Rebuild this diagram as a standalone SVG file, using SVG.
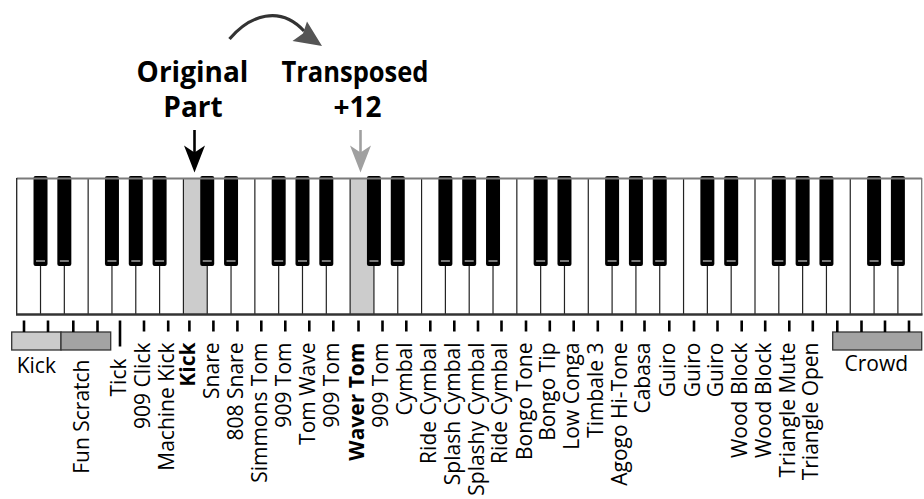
<svg xmlns="http://www.w3.org/2000/svg" xmlns:xlink="http://www.w3.org/1999/xlink" width="924" height="499" viewBox="0 0 924 499">
<defs>
<style>
text{font-family:"Open Sans","Liberation Sans",sans-serif;fill:#000}
.hd{font-size:28px;font-weight:bold;text-anchor:middle}
.lb{font-size:21px;text-anchor:end}
.b{font-weight:bold}
.sep{stroke:#222;stroke-width:1.2}
.tk{stroke:#000;stroke-width:2.6}
</style>
<g id="bk"><rect x="-7" y="176" width="14" height="90" rx="2" fill="#000"/><line x1="-4.5" y1="261" x2="4.5" y2="261" stroke="#9a9a9a" stroke-width="1.6"/></g>
</defs>
<rect width="924" height="499" fill="#fff"/>

<g id="keyboard">
<rect x="16.7" y="178.5" width="905" height="135.5" fill="#fff"/>
<rect x="183.41" y="178.5" width="23.82" height="135.5" fill="#cccccc"/>
<rect x="350.12" y="178.5" width="23.82" height="135.5" fill="#cccccc"/>
<g class="sep">
<line x1="40.52" y1="179" x2="40.52" y2="314"/><line x1="64.33" y1="179" x2="64.33" y2="314"/><line x1="88.15" y1="179" x2="88.15" y2="314"/><line x1="111.96" y1="179" x2="111.96" y2="314"/><line x1="135.78" y1="179" x2="135.78" y2="314"/><line x1="159.6" y1="179" x2="159.6" y2="314"/><line x1="183.41" y1="179" x2="183.41" y2="314"/><line x1="207.23" y1="179" x2="207.23" y2="314"/><line x1="231.04" y1="179" x2="231.04" y2="314"/><line x1="254.86" y1="179" x2="254.86" y2="314"/><line x1="278.68" y1="179" x2="278.68" y2="314"/><line x1="302.49" y1="179" x2="302.49" y2="314"/><line x1="326.31" y1="179" x2="326.31" y2="314"/><line x1="350.12" y1="179" x2="350.12" y2="314"/><line x1="373.94" y1="179" x2="373.94" y2="314"/><line x1="397.76" y1="179" x2="397.76" y2="314"/><line x1="421.57" y1="179" x2="421.57" y2="314"/><line x1="445.39" y1="179" x2="445.39" y2="314"/><line x1="469.2" y1="179" x2="469.2" y2="314"/><line x1="493.02" y1="179" x2="493.02" y2="314"/><line x1="516.84" y1="179" x2="516.84" y2="314"/><line x1="540.65" y1="179" x2="540.65" y2="314"/><line x1="564.47" y1="179" x2="564.47" y2="314"/><line x1="588.28" y1="179" x2="588.28" y2="314"/><line x1="612.1" y1="179" x2="612.1" y2="314"/><line x1="635.92" y1="179" x2="635.92" y2="314"/><line x1="659.73" y1="179" x2="659.73" y2="314"/><line x1="683.55" y1="179" x2="683.55" y2="314"/><line x1="707.36" y1="179" x2="707.36" y2="314"/><line x1="731.18" y1="179" x2="731.18" y2="314"/><line x1="755" y1="179" x2="755" y2="314"/><line x1="778.81" y1="179" x2="778.81" y2="314"/><line x1="802.63" y1="179" x2="802.63" y2="314"/><line x1="826.44" y1="179" x2="826.44" y2="314"/><line x1="850.26" y1="179" x2="850.26" y2="314"/><line x1="874.08" y1="179" x2="874.08" y2="314"/><line x1="897.89" y1="179" x2="897.89" y2="314"/>
</g>
<g id="black-keys">
<use xlink:href="#bk" x="40.52"/><use xlink:href="#bk" x="64.33"/><use xlink:href="#bk" x="111.96"/><use xlink:href="#bk" x="135.78"/><use xlink:href="#bk" x="159.6"/>
<use xlink:href="#bk" x="207.23"/><use xlink:href="#bk" x="231.04"/><use xlink:href="#bk" x="278.68"/><use xlink:href="#bk" x="302.49"/><use xlink:href="#bk" x="326.31"/>
<use xlink:href="#bk" x="373.94"/><use xlink:href="#bk" x="397.76"/><use xlink:href="#bk" x="445.39"/><use xlink:href="#bk" x="469.2"/><use xlink:href="#bk" x="493.02"/>
<use xlink:href="#bk" x="540.65"/><use xlink:href="#bk" x="564.47"/><use xlink:href="#bk" x="612.1"/><use xlink:href="#bk" x="635.92"/><use xlink:href="#bk" x="659.73"/>
<use xlink:href="#bk" x="707.36"/><use xlink:href="#bk" x="731.18"/><use xlink:href="#bk" x="778.81"/><use xlink:href="#bk" x="802.63"/><use xlink:href="#bk" x="826.44"/>
<use xlink:href="#bk" x="874.08"/><use xlink:href="#bk" x="897.89"/>
</g>
<line x1="16.7" y1="178.5" x2="921.7" y2="178.5" stroke="#7a7a7a" stroke-width="2"/>
<line x1="16.7" y1="178" x2="16.7" y2="315" stroke="#222" stroke-width="1.3"/>
<line x1="921.7" y1="178" x2="921.7" y2="315" stroke="#777" stroke-width="1.3"/>
<line x1="16" y1="314.5" x2="922.5" y2="314.5" stroke="#333" stroke-width="2.4"/>
</g>

<g id="connectors">
<path d="M229.5,39 C250,15 280,5 304,31" fill="none" stroke="#333" stroke-width="3.2"/>
<polygon points="322,46 292.5,41 303,33.5 307,21.5" fill="#555"/>
<line x1="194.5" y1="130" x2="194.5" y2="153" stroke="#000" stroke-width="2.6"/>
<polygon points="194.5,172.5 184,145.5 194.5,152.5 205,145.5" fill="#000"/>
<line x1="360.5" y1="130" x2="360.5" y2="153" stroke="#a0a0a0" stroke-width="2.6"/>
<polygon points="360.5,172.5 350,145.5 360.5,152.5 371,145.5" fill="#a0a0a0"/>
</g>

<g id="heading-original">
<text class="hd" x="192.5" y="81.5">Original</text>
<text class="hd" x="193" y="116.5">Part</text>
</g>
<g id="heading-transposed">
<text class="hd" x="355" y="81.5" textLength="147" lengthAdjust="spacingAndGlyphs">Transposed</text>
<text class="hd" x="357.5" y="116.5">+12</text>
</g>

<g id="kick-bar">
<rect x="11.7" y="332" width="49.3" height="18" fill="#cbcbcb" stroke="#333" stroke-width="1.3"/>
<g class="tk"><line x1="24" y1="320.5" x2="24" y2="332"/><line x1="48" y1="320.5" x2="48" y2="332"/></g>
<text x="36.3" y="373" font-size="21" text-anchor="middle">Kick</text>
</g>
<g id="fun-scratch-bar">
<rect x="61" y="332" width="49.7" height="18" fill="#a3a3a3" stroke="#333" stroke-width="1.3"/>
<g class="tk"><line x1="73.3" y1="320.5" x2="73.3" y2="332"/><line x1="97.5" y1="320.5" x2="97.5" y2="332"/></g>
<text class="lb" transform="translate(88.5,359.5) rotate(-90)">Fun Scratch</text>
</g>
<g id="crowd-bar">
<rect x="832.7" y="332" width="89" height="18" fill="#a3a3a3" stroke="#333" stroke-width="1.3"/>
<g class="tk"><line x1="837.3" y1="320.5" x2="837.3" y2="332"/><line x1="861.5" y1="320.5" x2="861.5" y2="332"/><line x1="885" y1="320.5" x2="885" y2="332"/><line x1="909" y1="320.5" x2="909" y2="332"/></g>
<text x="876.3" y="371" font-size="21" text-anchor="middle">Crowd</text>
</g>

<g id="ticks" class="tk">
<line x1="120" y1="320.5" x2="120" y2="346.5"/>
<line x1="144" y1="320.5" x2="144" y2="331.5"/><line x1="168.2" y1="320.5" x2="168.2" y2="331.5"/><line x1="189.4" y1="320.5" x2="189.4" y2="331.5"/><line x1="213.4" y1="320.5" x2="213.4" y2="331.5"/><line x1="237.4" y1="320.5" x2="237.4" y2="331.5"/><line x1="261.3" y1="320.5" x2="261.3" y2="331.5"/><line x1="285.3" y1="320.5" x2="285.3" y2="331.5"/><line x1="309.3" y1="320.5" x2="309.3" y2="331.5"/><line x1="333.3" y1="320.5" x2="333.3" y2="331.5"/><line x1="358.5" y1="320.5" x2="358.5" y2="331.5"/><line x1="382.5" y1="320.5" x2="382.5" y2="331.5"/><line x1="406.3" y1="320.5" x2="406.3" y2="331.5"/><line x1="430.3" y1="320.5" x2="430.3" y2="331.5"/><line x1="454.3" y1="320.5" x2="454.3" y2="331.5"/><line x1="478" y1="320.5" x2="478" y2="331.5"/><line x1="501.5" y1="320.5" x2="501.5" y2="331.5"/><line x1="526" y1="320.5" x2="526" y2="331.5"/><line x1="549.8" y1="320.5" x2="549.8" y2="331.5"/><line x1="573.7" y1="320.5" x2="573.7" y2="331.5"/><line x1="597.8" y1="320.5" x2="597.8" y2="331.5"/><line x1="621.8" y1="320.5" x2="621.8" y2="331.5"/><line x1="644.5" y1="320.5" x2="644.5" y2="331.5"/><line x1="669.3" y1="320.5" x2="669.3" y2="331.5"/><line x1="694" y1="320.5" x2="694" y2="331.5"/><line x1="717.5" y1="320.5" x2="717.5" y2="331.5"/><line x1="741.7" y1="320.5" x2="741.7" y2="331.5"/><line x1="765.2" y1="320.5" x2="765.2" y2="331.5"/><line x1="789.3" y1="320.5" x2="789.3" y2="331.5"/><line x1="812.8" y1="320.5" x2="812.8" y2="331.5"/>
</g>

<g id="labels">
<text class="lb" transform="translate(125.5,358.5) rotate(-90)">Tick</text>
<text class="lb" transform="translate(149.5,342.5) rotate(-90)">909 Click</text>
<text class="lb" transform="translate(173.7,342.5) rotate(-90)">Machine Kick</text>
<text class="lb b" transform="translate(195.2,342.5) rotate(-90)">Kick</text>
<text class="lb" transform="translate(218.9,342.5) rotate(-90)">Snare</text>
<text class="lb" transform="translate(242.9,342.5) rotate(-90)">808 Snare</text>
<text class="lb" transform="translate(266.8,342.5) rotate(-90)">Simmons Tom</text>
<text class="lb" transform="translate(290.8,342.5) rotate(-90)">909 Tom</text>
<text class="lb" transform="translate(314.8,342.5) rotate(-90)">Tom Wave</text>
<text class="lb" transform="translate(338.8,342.5) rotate(-90)">909 Tom</text>
<text class="lb b" transform="translate(364.3,342.5) rotate(-90)">Waver Tom</text>
<text class="lb" transform="translate(388,342.5) rotate(-90)">909 Tom</text>
<text class="lb" transform="translate(411.8,342.5) rotate(-90)">Cymbal</text>
<text class="lb" transform="translate(435.8,342.5) rotate(-90)">Ride Cymbal</text>
<text class="lb" transform="translate(459.8,342.5) rotate(-90)">Splash Cymbal</text>
<text class="lb" transform="translate(483.5,342.5) rotate(-90)">Splashy Cymbal</text>
<text class="lb" transform="translate(507,342.5) rotate(-90)">Ride Cymbal</text>
<text class="lb" transform="translate(531.5,342.5) rotate(-90)">Bongo Tone</text>
<text class="lb" transform="translate(555.3,342.5) rotate(-90)">Bongo Tip</text>
<text class="lb" transform="translate(579.2,342.5) rotate(-90)">Low Conga</text>
<text class="lb" transform="translate(603.3,342.5) rotate(-90)">Timbale 3</text>
<text class="lb" transform="translate(627.3,342.5) rotate(-90)">Agogo Hi-Tone</text>
<text class="lb" transform="translate(650,342.5) rotate(-90)">Cabasa</text>
<text class="lb" transform="translate(674.8,342.5) rotate(-90)">Guiro</text>
<text class="lb" transform="translate(699.5,342.5) rotate(-90)">Guiro</text>
<text class="lb" transform="translate(723,342.5) rotate(-90)">Guiro</text>
<text class="lb" transform="translate(747.2,342.5) rotate(-90)">Wood Block</text>
<text class="lb" transform="translate(770.7,342.5) rotate(-90)">Wood Block</text>
<text class="lb" transform="translate(794.8,342.5) rotate(-90)">Triangle Mute</text>
<text class="lb" transform="translate(818.3,342.5) rotate(-90)">Triangle Open</text>
</g>
</svg>
